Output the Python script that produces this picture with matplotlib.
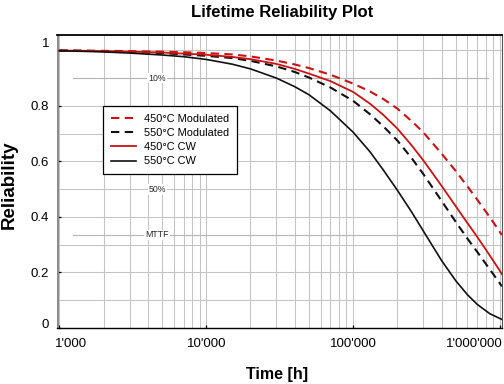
import matplotlib
matplotlib.use("Agg")
import matplotlib.pyplot as plt
import matplotlib.transforms as mtransforms

plt.rcParams['font.family'] = ['Liberation Sans', 'DejaVu Sans']

# ---- data ----
time_h = [1000, 1500, 2000, 3000, 5000, 7000, 10000, 15000, 20000, 30000, 40000, 50000,
          70000, 100000, 130000, 160000, 200000, 250000, 300000, 400000, 500000,
          600000, 700000, 850000, 1000000, 1030000]

r_450_mod = [0.999, 0.9985, 0.998, 0.997, 0.995, 0.993, 0.990, 0.985, 0.978, 0.963, 0.949, 0.936,
             0.912, 0.880, 0.852, 0.825, 0.790, 0.745, 0.705, 0.628, 0.565,
             0.510, 0.462, 0.400, 0.345, 0.335]
r_550_mod = [0.999, 0.998, 0.997, 0.994, 0.990, 0.985, 0.980, 0.972, 0.962, 0.942, 0.922, 0.902,
             0.866, 0.818, 0.770, 0.727, 0.675, 0.612, 0.555, 0.458, 0.382,
             0.322, 0.274, 0.212, 0.160, 0.150]
r_450_cw = [0.999, 0.998, 0.997, 0.995, 0.992, 0.988, 0.984, 0.976, 0.968, 0.951, 0.933, 0.916,
            0.889, 0.850, 0.808, 0.768, 0.718, 0.658, 0.604, 0.512, 0.438,
            0.378, 0.328, 0.262, 0.205, 0.194]
r_550_cw = [0.998, 0.996, 0.994, 0.990, 0.983, 0.977, 0.967, 0.950, 0.933, 0.900, 0.869, 0.840,
            0.782, 0.705, 0.635, 0.570, 0.496, 0.418, 0.350, 0.243, 0.170,
            0.120, 0.085, 0.052, 0.034, 0.031]

series_labels = ["450°C Modulated", "550°C Modulated", "450°C CW", "550°C CW"]

x_ticks = [1000, 10000, 100000, 1000000]
x_tick_labels = ["1'000", "10'000", "100'000", "1'000'000"]
y_ticks = [0, 0.2, 0.4, 0.6, 0.8, 1.0]
y_tick_labels = ["0", "0.2", "0.4", "0.6", "0.8", "1"]

ref_levels = [0.9, 0.5, 0.335]
ref_labels = ["10%", "50%", "MTTF"]

# ---- figure ----
fig = plt.figure(figsize=(5.04, 3.84), dpi=100)
ax = fig.add_axes([57.5 / 504, 56 / 384, 444.5 / 504, 293 / 384])
ax.set_xscale('log')
ax.set_xlim(970, 1.032e6)
ax.set_ylim(0, 1.055)

grid_c = '#c4c4c4'
# vertical grid
for dec in [1000, 10000, 100000]:
    for m in range(1, 10):
        v = dec * m
        if v > 970:
            ax.axvline(v, color=grid_c, lw=0.75, zorder=0)
ax.axvline(1000000, color=grid_c, lw=0.75, zorder=0)
# horizontal grid
for k in range(0, 11):
    yv = k / 10
    if abs(yv - 0.9) < 1e-9:
        continue
    ax.axhline(yv, color=grid_c, lw=0.75, zorder=0)

# reference lines (10%, 50%, MTTF)
for lev, lab in zip(ref_levels, ref_labels):
    if lab != "50%":
        ax.axhline(lev, xmin=0.035, xmax=0.969, color='#b4b4b4', lw=0.8, zorder=0.5)
    ax.text(0.224, lev, lab, transform=ax.get_yaxis_transform(), fontsize=6.3,
            ha='center', va='center', color='#2a2a2a', zorder=1,
            bbox=dict(facecolor='white', edgecolor='none', pad=0.6))

red = '#cc1111'
ax.plot(time_h, r_450_mod, color=red, lw=1.5, dashes=(4, 2.6), label=series_labels[0], zorder=3)
ax.plot(time_h, r_550_mod, color='#111111', lw=1.5, dashes=(4, 2.6), label=series_labels[1], zorder=3)
ax.plot(time_h, r_450_cw, color=red, lw=1.3, label=series_labels[2], zorder=3)
ax.plot(time_h, r_550_cw, color='#111111', lw=1.2, label=series_labels[3], zorder=3)

# ticks
ax.set_xticks(x_ticks)
ax.set_xticklabels(x_tick_labels)
ax.xaxis.set_minor_locator(matplotlib.ticker.NullLocator())
ax.set_yticks(y_ticks)
ax.set_yticklabels(y_tick_labels)
ax.tick_params(axis='both', direction='in', length=2.5, width=0.9, labelsize=9.5,
               colors='black', pad=6)
ax.tick_params(axis='x', pad=7)

xl = ax.get_xticklabels()
xl[0].set_ha('left')
xl[0].set_transform(xl[0].get_transform() + mtransforms.ScaledTranslation(-4 / 100, 0, fig.dpi_scale_trans))
xl[-1].set_ha('right')
xl[-1].set_transform(xl[-1].get_transform() + mtransforms.ScaledTranslation(3 / 100, 0, fig.dpi_scale_trans))
yl = ax.get_yticklabels()
yl[0].set_transform(yl[0].get_transform() + mtransforms.ScaledTranslation(0, 5 / 100, fig.dpi_scale_trans))
yl[-1].set_transform(yl[-1].get_transform() + mtransforms.ScaledTranslation(0, 8 / 100, fig.dpi_scale_trans))

# spines
ax.spines['left'].set_color('#8a8a8a')
ax.spines['left'].set_linewidth(1.4)
ax.spines['top'].set_color('black')
ax.spines['top'].set_linewidth(1.3)
ax.spines['bottom'].set_color('black')
ax.spines['bottom'].set_linewidth(1.0)
ax.spines['right'].set_color('#555555')
ax.spines['right'].set_linewidth(0.8)

leg = ax.legend(loc='upper left', bbox_to_anchor=((103 - 57.5) / 444.5, (328 - 106) / 293),
                borderaxespad=0, fontsize=7.9, handlelength=2.3, handletextpad=0.75,
                labelspacing=0.38, borderpad=0.72, fancybox=False, framealpha=1,
                edgecolor='black')
leg.get_frame().set_linewidth(0.9)
leg.set_zorder(5)

fig.text(282 / 504, 1 - 13 / 384, "Lifetime Reliability Plot", fontsize=12,
         fontweight='bold', ha='center', va='center')
fig.text(277 / 504, 1 - 374 / 384, "Time [h]", fontsize=11.5, fontweight='bold',
         ha='center', va='center')
fig.text(9 / 504, 1 - 185 / 384, "Reliability", fontsize=13.5, fontweight='bold',
         rotation=90, ha='center', va='center')

fig.savefig("out.png", dpi=100)
